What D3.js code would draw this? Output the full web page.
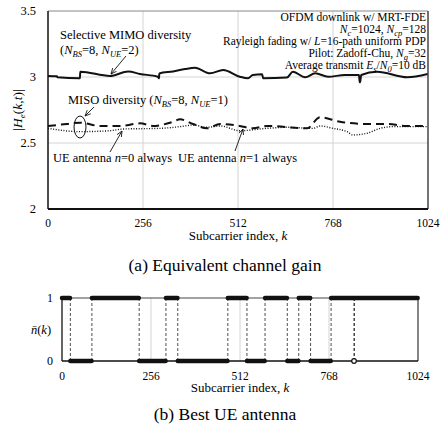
<!DOCTYPE html>
<html><head><meta charset="utf-8">
<script src="https://cdn.jsdelivr.net/npm/d3@7"></script>
<style>
body{margin:0;background:#fff;}
</style></head>
<body>
<svg id="c" width="441" height="428" font-family="'Liberation Serif', 'DejaVu Serif', serif"></svg>
<script>
// ---------- data ----------
const xTicks = [0, 256, 512, 768, 1024];
const yTicksTop = [2, 2.5, 3, 3.5];
const yTickLabelsTop = ["2", "2.5", "3", "3.5"];

// Selective MIMO diversity (N_BS=8, N_UE=2)
const kMimo = [0, 24, 25, 86, 87, 167, 216, 248, 296, 299, 300, 337, 369, 396, 437, 472, 517, 539, 552, 577, 580, 644, 660, 693, 720, 755, 800, 838, 840, 841, 844, 887, 968, 1023];
const hMimo = [3.008, 3.005, 2.998, 2.99, 3.04, 3.008, 3.042, 3.023, 3.002, 2.99, 3.027, 3.042, 3.06, 3.07, 3.028, 3.053, 3.002, 2.99, 3.015, 3.02, 2.99, 2.996, 3.04, 2.998, 3.028, 3.002, 3.015, 3.015, 2.96, 2.96, 3.015, 3.04, 2.998, 3.023];

// MISO, UE antenna n=1 always (dashed)
const kUe1 = [0, 51, 86, 140, 194, 248, 283, 337, 356, 391, 428, 464, 517, 552, 590, 698, 733, 787, 860, 913, 968, 1023];
const hUe1 = [2.629, 2.644, 2.654, 2.629, 2.629, 2.649, 2.629, 2.661, 2.679, 2.644, 2.611, 2.644, 2.629, 2.611, 2.629, 2.611, 2.695, 2.661, 2.644, 2.644, 2.629, 2.629];

// MISO, UE antenna n=0 always (dotted)
const kUe0 = [0, 86, 167, 202, 302, 356, 391, 428, 464, 517, 590, 644, 714, 733, 768, 806, 822, 860, 895, 930, 1023];
const hUe0 = [2.611, 2.586, 2.593, 2.606, 2.611, 2.624, 2.636, 2.619, 2.629, 2.593, 2.611, 2.619, 2.611, 2.629, 2.611, 2.586, 2.561, 2.574, 2.611, 2.624, 2.624];

// Best UE antenna: switching subcarriers and value on each run
const switchK = [0, 24, 86, 222, 299, 333, 477, 532, 584, 648, 681, 715, 774, 840, 841, 1024];
const bestAnt = [1, 0, 1, 0, 1, 0, 1, 0, 1, 0, 1, 0, 1, 0, 1];
const yTicksBot = [0, 1];

// ---------- drawing ----------
const svg = d3.select("#c");
const x = d3.scaleLinear().domain([0, 1024]).range([48, 428]);
const y = d3.scaleLinear().domain([2, 3.5]).range([209, 11]);

const defs = svg.append("defs");
defs.append("marker").attr("id","arr").attr("viewBox","0 0 10 10").attr("refX",9).attr("refY",5)
  .attr("markerWidth",7).attr("markerHeight",7).attr("orient","auto")
  .append("path").attr("d","M0,1 L9,5 L0,9").attr("fill","none").attr("stroke","#111").attr("stroke-width",1.3);

// grid top
const gTop = svg.append("g");
gTop.selectAll(".vg").data([256,512,768]).enter().append("line")
  .attr("x1",d=>x(d)).attr("x2",d=>x(d)).attr("y1",y(2)).attr("y2",y(3.5))
  .attr("stroke","#d4d4d4").attr("stroke-width",1);
gTop.selectAll(".hg").data([2.5,3]).enter().append("line")
  .attr("x1",x(0)).attr("x2",x(1024)).attr("y1",d=>y(d)).attr("y2",d=>y(d))
  .attr("stroke","#d4d4d4").attr("stroke-width",1);
// frame
gTop.append("line").attr("x1",x(0)).attr("x2",x(1024)).attr("y1",y(3.5)).attr("y2",y(3.5)).attr("stroke","#888").attr("stroke-width",1);
gTop.append("line").attr("x1",x(1024)).attr("x2",x(1024)).attr("y1",y(3.5)).attr("y2",y(2)).attr("stroke","#444").attr("stroke-width",1.5);
gTop.append("line").attr("x1",x(0)).attr("x2",x(1024)).attr("y1",y(2)).attr("y2",y(2)).attr("stroke","#111").attr("stroke-width",2);
gTop.append("line").attr("x1",x(0)).attr("x2",x(0)).attr("y1",y(3.5)).attr("y2",y(2)).attr("stroke","#111").attr("stroke-width",1.5);

// tick labels
gTop.selectAll(".yt").data(yTicksTop).enter().append("text")
  .attr("x",36).attr("y",d=>y(d)+4).attr("text-anchor","end").attr("font-size",12.5)
  .text((d,i)=>yTickLabelsTop[i]);
gTop.selectAll(".xt").data(xTicks).enter().append("text")
  .attr("x",d=>x(d)).attr("y",227).attr("text-anchor","middle").attr("font-size",11.5).text(d=>d);
const xl1 = gTop.append("text").attr("x",x(512)).attr("y",240).attr("text-anchor","middle").attr("font-size",13);
xl1.append("tspan").text("Subcarrier index, ");
xl1.append("tspan").attr("font-style","italic").text("k");
gTop.append("text").attr("x",225).attr("y",271).attr("text-anchor","middle").attr("font-size",17.5).text("(a) Equivalent channel gain");

// y label
const yl = gTop.append("text").attr("transform","translate(22,110) rotate(-90)").attr("text-anchor","middle").attr("font-size",13.5);
yl.append("tspan").text("|");
yl.append("tspan").attr("font-style","italic").text("H");
yl.append("tspan").attr("font-style","italic").attr("font-size",9).attr("baseline-shift","-3").text("e");
yl.append("tspan").text("(");
yl.append("tspan").attr("font-style","italic").text("k,t");
yl.append("tspan").text(")|");

// curves
const lineGen = d3.line().x(d=>x(d[0])).y(d=>y(d[1])).curve(d3.curveMonotoneX);
gTop.append("path").datum(kMimo.map((k,i)=>[k,hMimo[i]])).attr("d",lineGen)
  .attr("fill","none").attr("stroke","#111").attr("stroke-width",2);
gTop.append("path").datum(kUe1.map((k,i)=>[k,hUe1[i]])).attr("d",lineGen)
  .attr("fill","none").attr("stroke","#111").attr("stroke-width",2).attr("stroke-dasharray","8,5");
gTop.append("path").datum(kUe0.map((k,i)=>[k,hUe0[i]])).attr("d",lineGen)
  .attr("fill","none").attr("stroke","#111").attr("stroke-width",1.4).attr("stroke-dasharray","1,1.6");

// annotations
function sub(t, main, s){ t.append("tspan").attr("font-style","italic").text(main);
  t.append("tspan").attr("font-style","italic").attr("font-size",8.5).attr("baseline-shift","-3").text(s);
  return t; }
gTop.append("text").attr("x",60).attr("y",39).attr("font-size",12.5).text("Selective MIMO diversity");
let t = gTop.append("text").attr("x",60).attr("y",54).attr("font-size",12.5);
t.append("tspan").text("(");
sub(t,"N","BS"); t.append("tspan").text("=8, ");
sub(t,"N","UE"); t.append("tspan").text("=2)");
gTop.append("line").attr("x1",126).attr("y1",56).attr("x2",111).attr("y2",74).attr("stroke","#111").attr("stroke-width",0.9).attr("marker-end","url(#arr)");

t = gTop.append("text").attr("x",68).attr("y",104).attr("font-size",12.5);
t.append("tspan").text("MISO diversity (");
sub(t,"N","BS"); t.append("tspan").text("=8, ");
sub(t,"N","UE"); t.append("tspan").text("=1)");
gTop.append("ellipse").attr("cx",80).attr("cy",127).attr("rx",6).attr("ry",11).attr("fill","none").attr("stroke","#111").attr("stroke-width",1);
gTop.append("line").attr("x1",94).attr("y1",107).attr("x2",85).attr("y2",116).attr("stroke","#111").attr("stroke-width",0.9).attr("marker-end","url(#arr)");

t = gTop.append("text").attr("x",53).attr("y",162).attr("font-size",12.5);
t.append("tspan").text("UE antenna "); t.append("tspan").attr("font-style","italic").text("n"); t.append("tspan").text("=0 always");
gTop.append("line").attr("x1",110).attr("y1",152).attr("x2",122).attr("y2",131).attr("stroke","#111").attr("stroke-width",0.9).attr("marker-end","url(#arr)");
t = gTop.append("text").attr("x",178).attr("y",162).attr("font-size",12.5);
t.append("tspan").text("UE antenna "); t.append("tspan").attr("font-style","italic").text("n"); t.append("tspan").text("=1 always");
gTop.append("line").attr("x1",235).attr("y1",151).attr("x2",243).attr("y2",129).attr("stroke","#111").attr("stroke-width",0.9).attr("marker-end","url(#arr)");

// right info block
const info = gTop.append("g").attr("font-size",11.5);
const bx = 426, by = 21, dl = 12;
info.append("text").attr("x",bx).attr("y",by).attr("text-anchor","end").text("OFDM downlink w/ MRT-FDE");
t = info.append("text").attr("x",bx).attr("y",by+dl).attr("text-anchor","end");
sub(t,"N","c"); t.append("tspan").text("=1024, "); sub(t,"N","cp"); t.append("tspan").text("=128");
t = info.append("text").attr("x",bx).attr("y",by+2*dl).attr("text-anchor","end");
t.append("tspan").text("Rayleigh fading w/ "); t.append("tspan").attr("font-style","italic").text("L"); t.append("tspan").text("=16-path uniform PDP");
t = info.append("text").attr("x",bx).attr("y",by+3*dl).attr("text-anchor","end");
t.append("tspan").text("Pilot: Zadoff-Chu, "); sub(t,"N","g"); t.append("tspan").text("=32");
t = info.append("text").attr("x",bx).attr("y",by+4*dl).attr("text-anchor","end");
t.append("tspan").text("Average transmit "); sub(t,"E","s"); t.append("tspan").text("/");
sub(t,"N","0"); t.append("tspan").text("=10 dB");

// ---------- bottom panel ----------
const xb = d3.scaleLinear().domain([0,1024]).range([62,418]);
const yb = d3.scaleLinear().domain([0,1]).range([361,298]);
const gB = svg.append("g");
gB.selectAll(".vg").data([256,512,768]).enter().append("line")
  .attr("x1",d=>xb(d)).attr("x2",d=>xb(d)).attr("y1",yb(0)).attr("y2",yb(1))
  .attr("stroke","#d4d4d4").attr("stroke-width",1);
gB.append("line").attr("x1",xb(0)).attr("x2",xb(1024)).attr("y1",yb(1)).attr("y2",yb(1)).attr("stroke","#444").attr("stroke-width",1);
gB.append("line").attr("x1",xb(1024)).attr("x2",xb(1024)).attr("y1",yb(1)).attr("y2",yb(0)).attr("stroke","#444").attr("stroke-width",1.3);
gB.append("line").attr("x1",xb(0)).attr("x2",xb(1024)).attr("y1",yb(0)).attr("y2",yb(0)).attr("stroke","#111").attr("stroke-width",1.5);
gB.append("line").attr("x1",xb(0)).attr("x2",xb(0)).attr("y1",yb(1)).attr("y2",yb(0)).attr("stroke","#111").attr("stroke-width",1.3);

// transitions
gB.selectAll(".tr").data(switchK.slice(1,-1)).enter().append("line")
  .attr("x1",d=>xb(d)).attr("x2",d=>xb(d)).attr("y1",yb(1)).attr("y2",yb(0))
  .attr("stroke","#222").attr("stroke-width",0.8).attr("stroke-dasharray","3,2");
// runs
const runs = bestAnt.map((v,i)=>({s:switchK[i], e:switchK[i+1]-1, v:v}));
gB.selectAll(".run").data(runs.filter(r=>r.e>r.s)).enter().append("line")
  .attr("x1",d=>xb(d.s)).attr("x2",d=>xb(d.e)).attr("y1",d=>yb(d.v)).attr("y2",d=>yb(d.v))
  .attr("stroke","#111").attr("stroke-width",4.5).attr("stroke-linecap","round");
gB.selectAll(".pt").data(runs.filter(r=>r.e===r.s)).enter().append("circle")
  .attr("cx",d=>xb(d.s)).attr("cy",d=>yb(d.v)).attr("r",2.3)
  .attr("fill","#fff").attr("stroke","#111").attr("stroke-width",1.2);

gB.selectAll(".yt").data(yTicksBot).enter().append("text")
  .attr("x",53).attr("y",d=>yb(d)+4).attr("text-anchor","end").attr("font-size",12).text(d=>d);
gB.selectAll(".xt").data(xTicks).enter().append("text")
  .attr("x",d=>xb(d)).attr("y",380).attr("text-anchor","middle").attr("font-size",11.5).text(d=>d);
const xl2 = gB.append("text").attr("x",xb(512)).attr("y",392).attr("text-anchor","middle").attr("font-size",13);
xl2.append("tspan").text("Subcarrier index, ");
xl2.append("tspan").attr("font-style","italic").text("k");
gB.append("text").attr("x",225).attr("y",420).attr("text-anchor","middle").attr("font-size",17.5).text("(b) Best UE antenna");
const nl = gB.append("text").attr("x",41).attr("y",334).attr("text-anchor","middle").attr("font-size",12.5);
nl.append("tspan").attr("font-style","italic").text("n\u0304");
nl.append("tspan").text("(");
nl.append("tspan").attr("font-style","italic").text("k");
nl.append("tspan").text(")");
</script>
</body></html>
